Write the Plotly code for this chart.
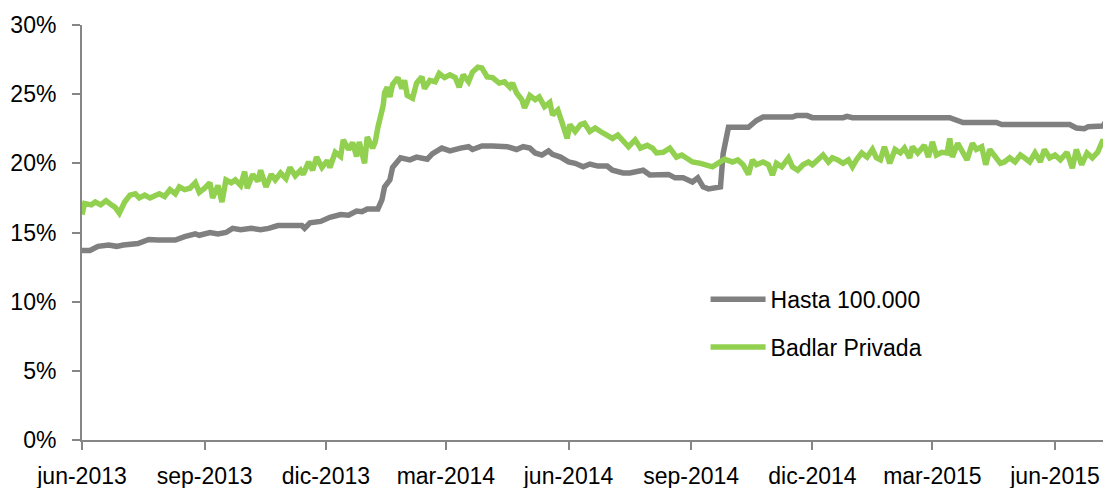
import pandas as pd
import plotly.graph_objects as go

start = pd.Timestamp("2013-06-01")

# days since 2013-06-01, values in %
hasta_days = [0, 6, 12, 20, 26, 31, 42, 50, 57, 70, 77, 85, 88, 96, 102, 108, 113, 119, 127, 134,
              140, 147, 165, 167, 171, 179, 186, 194, 200, 206, 210, 214, 222, 225, 227, 231, 233,
              239, 246, 251, 259, 263, 270, 276, 284, 290, 293, 300, 308, 319, 326, 331, 336, 340,
              345, 350, 353, 359, 365, 370, 376, 381, 387, 394, 398, 406, 411, 416, 421, 426, 434,
              440, 445, 451, 458, 462, 466, 470, 479, 481, 485, 500, 506, 511, 533, 536, 544, 548,
              571, 574, 578, 651, 661, 686, 690, 741, 746, 752, 755, 766, 771]
hasta_vals = [13.7, 13.7, 14.0, 14.1, 14.0, 14.1, 14.2, 14.5, 14.45, 14.45, 14.7, 14.9, 14.8, 15.0,
              14.9, 15.0, 15.3, 15.2, 15.3, 15.2, 15.3, 15.5, 15.5, 15.3, 15.7, 15.8, 16.1, 16.3,
              16.25, 16.55, 16.5, 16.7, 16.7, 17.35, 18.3, 18.8, 19.7, 20.4, 20.25, 20.45, 20.3,
              20.7, 21.1, 20.9, 21.1, 21.2, 21.0, 21.25, 21.25, 21.2, 21.0, 21.2, 21.1, 20.75,
              20.6, 20.9, 20.65, 20.45, 20.1, 20.0, 19.75, 19.95, 19.8, 19.8, 19.5, 19.3, 19.3,
              19.4, 19.5, 19.15, 19.15, 19.2, 18.95, 18.95, 18.65, 18.95, 18.3, 18.15, 18.3, 20.7,
              22.6, 22.6, 23.1, 23.35, 23.35, 23.45, 23.45, 23.3, 23.3, 23.4, 23.3, 23.3, 22.95,
              22.95, 22.8, 22.8, 22.55, 22.5, 22.65, 22.7, 23.5]

badlar_days = [0, 2, 7, 10, 14, 18, 22, 25, 28, 32, 36, 40, 43, 47, 51, 55, 58, 62, 66, 70, 73, 77,
               81, 85, 88, 92, 96, 98, 102, 105, 108, 112, 115, 119, 122, 124, 128, 132, 134, 138,
               142, 145, 149, 153, 156, 160, 164, 166, 170, 173, 176, 180, 184, 186, 190, 194, 196,
               200, 203, 206, 208, 212, 214, 218, 220, 222, 226, 227, 229, 231, 233, 237, 240, 242,
               244, 248, 251, 255, 257, 261, 265, 268, 272, 276, 280, 283, 286, 290, 293, 297, 300,
               304, 308, 313, 317, 321, 323, 326, 330, 332, 336, 340, 343, 347, 351, 353, 357, 360,
               364, 366, 370, 374, 377, 381, 385, 389, 394, 398, 402, 406, 410, 415, 419, 424, 428,
               431, 436, 441, 446, 450, 454, 458, 464, 470, 473, 477, 482, 488, 492, 496, 500, 503,
               506, 511, 515, 518, 521, 525, 530, 533, 537, 541, 545, 548, 552, 556, 560, 563, 567,
               571, 575, 578, 581, 585, 589, 593, 596, 599, 602, 606, 610, 614, 617, 621, 623, 627,
               632, 635, 638, 641, 645, 649, 651, 653, 657, 661, 664, 668, 671, 675, 678, 681, 685,
               689, 692, 696, 700, 704, 707, 711, 715, 719, 722, 726, 730, 734, 739, 743, 746, 750,
               754, 758, 762, 766, 769, 771]
badlar_vals = [16.3, 17.1, 17.0, 17.2, 17.0, 17.3, 17.0, 16.8, 16.4, 17.2, 17.7, 17.8, 17.5, 17.7,
               17.5, 17.7, 17.8, 17.6, 18.1, 17.8, 18.3, 18.1, 18.2, 18.6, 17.9, 18.2, 18.6, 17.5,
               18.4, 17.2, 18.8, 18.6, 18.8, 18.4, 19.4, 18.2, 19.2, 18.7, 19.5, 18.3, 19.2, 18.8,
               19.3, 18.9, 19.7, 19.1, 19.5, 19.2, 20.1, 19.5, 20.45, 19.7, 20.2, 19.7, 20.8, 20.5,
               21.7, 21.0, 21.5, 20.5, 21.55, 20.0, 21.9, 21.1, 21.55, 22.6, 24.2, 25.1, 25.5, 24.8,
               25.7, 26.2, 25.4, 26.0, 24.9, 24.7, 25.8, 26.25, 25.4, 26.0, 25.9, 26.5, 26.2, 26.4,
               26.2, 25.5, 26.4, 25.9, 26.6, 26.95, 26.9, 26.25, 26.2, 25.8, 25.9, 25.5, 25.8, 25.1,
               24.6, 24.0, 24.9, 24.6, 24.8, 24.1, 24.4, 23.5, 23.85, 23.0, 21.8, 22.8, 22.3, 22.8,
               22.9, 22.3, 22.55, 22.3, 22.05, 21.8, 22.05, 21.55, 21.2, 21.7, 21.1, 21.3, 21.1,
               20.75, 20.8, 21.1, 20.45, 20.6, 20.4, 20.1, 20.0, 19.9, 19.75, 20.0, 20.3, 20.1,
               20.25, 19.9, 19.2, 20.25, 19.9, 20.1, 19.9, 19.15, 20.0, 19.75, 20.4, 19.75, 19.5,
               19.9, 20.1, 19.9, 20.25, 20.6, 20.1, 20.4, 20.25, 20.0, 20.25, 19.75, 20.25, 20.75,
               20.45, 21.0, 20.4, 20.25, 21.2, 20.0, 21.0, 20.75, 21.1, 20.4, 21.2, 20.75, 21.3,
               20.45, 21.55, 20.6, 20.8, 20.75, 21.8, 20.45, 21.45, 20.8, 20.25, 21.45, 21.0, 21.2,
               19.9, 21.0, 20.45, 20.0, 20.1, 20.4, 20.1, 20.6, 20.4, 20.1, 20.75, 20.1, 21.0, 20.4,
               20.6, 20.25, 20.8, 19.65, 21.0, 19.9, 20.75, 20.4, 20.8, 21.7, 21.1, 21.7]

tick_dates = ["2013-06-01", "2013-09-01", "2013-12-01", "2014-03-01", "2014-06-01",
              "2014-09-01", "2014-12-01", "2015-03-01", "2015-06-01"]
tick_labels = ["jun-2013", "sep-2013", "dic-2013", "mar-2014", "jun-2014",
               "sep-2014", "dic-2014", "mar-2015", "jun-2015"]
y_ticks = [0, 5, 10, 15, 20, 25, 30]
y_labels = ["0%", "5%", "10%", "15%", "20%", "25%", "30%"]

hasta_x = [start + pd.Timedelta(days=d) for d in hasta_days]
badlar_x = [start + pd.Timedelta(days=d) for d in badlar_days]

FONT = "Liberation Sans, Arial, sans-serif"

fig = go.Figure()
fig.add_trace(go.Scatter(x=hasta_x, y=hasta_vals, mode="lines", name="Hasta 100.000",
                         legendgroup="a",
                         line=dict(color="#808080", width=5.5, shape="linear")))
fig.add_trace(go.Scatter(x=badlar_x, y=badlar_vals, mode="lines", name="Badlar Privada",
                         legendgroup="b",
                         line=dict(color="#92D050", width=5.5, shape="linear")))

# the page places the figure 8px in from the top-left corner
fig.update_layout(
    width=1103, height=480,
    margin=dict(l=74, r=0, t=17, b=48, autoexpand=False),
    paper_bgcolor="white", plot_bgcolor="white",
    font=dict(family=FONT, size=23, color="#000000"),
    showlegend=True,
    legend=dict(x=0.606, y=0.391, xanchor="left", yanchor="top",
                bgcolor="rgba(0,0,0,0)", font=dict(size=23, family=FONT),
                tracegroupgap=15, itemwidth=55, traceorder="grouped"),
    xaxis=dict(type="date", range=["2013-06-01", "2015-07-13"],
               tickvals=tick_dates, ticktext=tick_labels,
               showgrid=False, zeroline=False, automargin=False,
               showline=True, linecolor="#868686", linewidth=2,
               ticks="outside", ticklen=8, tickcolor="#868686", tickwidth=1.5,
               tickfont=dict(size=23, family=FONT), ticklabelstandoff=6),
    yaxis=dict(range=[0, 30], tickvals=y_ticks, ticktext=y_labels,
               showgrid=False, zeroline=False, automargin=False,
               showline=True, linecolor="#868686", linewidth=2,
               ticks="outside", ticklen=8, tickcolor="#868686", tickwidth=1.5,
               tickfont=dict(size=23, family=FONT), ticklabelstandoff=11),
)

fig.write_html("out.html")
